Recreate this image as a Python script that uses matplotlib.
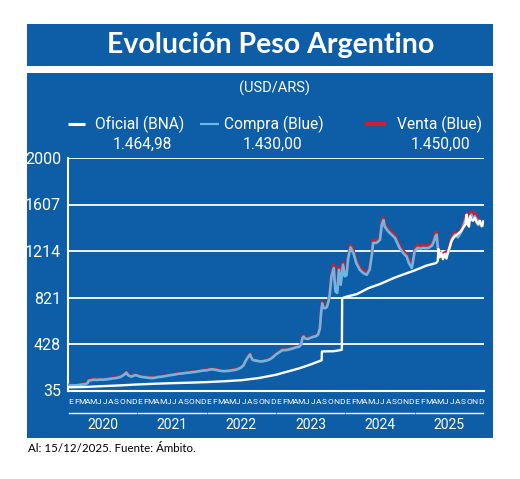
import matplotlib
matplotlib.use("Agg")
import matplotlib.pyplot as plt
from matplotlib import font_manager
from matplotlib.lines import Line2D
from matplotlib.patches import Rectangle

# ---------------- data ----------------
months = ['E', 'F', 'M', 'A', 'M', 'J', 'J', 'A', 'S', 'O', 'N', 'D']
years = ['2020', '2021', '2022', '2023', '2024', '2025']
y_ticks = [35, 428, 821, 1214, 1607, 2000]

# time in months since Jan 2020
blue_t = [0.0, 0.5, 1.0, 1.5, 2.0, 2.5, 3.0, 3.4, 3.6, 4.0, 4.5, 5.0, 5.5, 6.0, 6.5, 7.0, 7.5, 8.0, 8.5,
          9.0, 9.4, 9.8, 10.1, 10.3, 10.5, 10.8, 11.0, 11.3, 11.6, 12.0, 12.5, 13.0, 13.5, 14.0, 14.5,
          15.0, 15.5, 16.0, 16.5, 17.0, 17.5, 18.0, 18.5, 19.0, 19.5, 20.0, 20.5, 21.0, 21.5, 22.0,
          22.5, 23.0, 23.5, 24.0, 24.5, 25.0, 25.5, 26.0, 26.5, 27.0, 27.5, 28.0, 28.5, 29.0, 29.5,
          30.0, 30.4, 30.8, 31.2, 31.5, 31.7, 32.0, 32.5, 33.0, 33.5, 34.0, 34.5, 35.0, 35.5, 36.0,
          36.3, 36.7, 37.0, 37.5, 38.0, 38.5, 39.0, 39.5, 40.0, 40.3, 40.6, 40.8, 41.0, 41.5, 42.0,
          42.5, 43.0, 43.3, 43.6, 43.8, 44.0, 44.2, 44.5, 44.8, 45.1, 45.3, 45.6, 46.0, 46.15, 46.3,
          46.6, 46.9, 47.2, 47.6, 47.9, 48.2, 48.5, 48.9, 49.4, 49.9, 50.5, 51.1, 51.7, 52.2, 52.6,
          52.8, 53.4, 54.0, 54.3, 54.6, 54.8, 55.4, 56.0, 56.6, 57.0, 57.4, 58.0, 58.6, 59.0, 59.5,
          59.8, 60.0, 60.5, 61.0, 61.5, 62.0, 62.5, 63.0, 63.3, 63.6, 63.8, 64.1, 64.4, 64.7, 65.2,
          65.8, 66.1, 66.4, 67.0, 67.5, 68.1, 68.7, 69.0, 69.3, 69.6, 69.8, 70.1, 70.4, 70.7, 71.0,
          71.3, 71.6, 71.9]

compra = [77, 78, 78, 79, 82, 86, 88, 98, 118, 122, 126, 124, 127, 126, 128, 131, 135, 138, 142,
          148, 158, 172, 186, 172, 160, 155, 152, 158, 165, 160, 152, 148, 145, 142, 140,
          142, 148, 150, 154, 158, 163, 166, 170, 175, 178, 180, 184, 186, 190, 192,
          196, 200, 204, 205, 212, 214, 210, 205, 200, 198, 200, 202, 206, 210, 218,
          230, 250, 290, 320, 340, 315, 292, 288, 282, 280, 285, 290, 300, 318, 340,
          350, 362, 375, 376, 378, 385, 392, 400, 405, 420, 480, 490, 475, 470, 480,
          490, 495, 510, 560, 690, 770, 735, 730, 740, 790, 845, 1000, 1070, 960, 872,
          860, 1055, 928, 1098, 1000, 1010, 1155, 1245, 1197, 1112, 1055, 1027, 1013, 1055, 1182,
          1282, 1282, 1308, 1437, 1475, 1422, 1380, 1352, 1324, 1280, 1239, 1197, 1168, 1112, 1070,
          1150, 1214, 1240, 1235, 1240, 1238, 1242, 1260, 1290, 1340, 1352, 1197, 1180, 1168, 1180,
          1197, 1250, 1310, 1352, 1330, 1380, 1465, 1507, 1465, 1493, 1521, 1479, 1507, 1480, 1465,
          1440, 1437, 1430]

venta = [80, 81, 81, 82, 85, 89, 92, 102, 123, 127, 131, 129, 132, 131, 133, 136, 140, 143, 147,
         153, 163, 177, 193, 178, 165, 160, 157, 163, 170, 165, 157, 153, 150, 146, 144,
         146, 152, 154, 158, 162, 167, 170, 174, 179, 182, 184, 188, 190, 194, 196,
         200, 204, 208, 209, 216, 218, 214, 209, 204, 202, 204, 206, 210, 214, 222,
         234, 254, 294, 324, 346, 319, 296, 292, 286, 284, 289, 294, 304, 322, 344,
         354, 366, 379, 380, 382, 389, 396, 404, 409, 425, 495, 497, 480, 475, 485,
         495, 500, 515, 570, 705, 785, 745, 740, 750, 800, 860, 1020, 1100, 985, 890,
         880, 1080, 950, 1120, 1020, 1030, 1175, 1265, 1217, 1132, 1075, 1047, 1033, 1075, 1202,
         1302, 1302, 1328, 1457, 1495, 1442, 1400, 1372, 1344, 1300, 1259, 1217, 1188, 1132, 1090,
         1170, 1234, 1260, 1255, 1260, 1258, 1262, 1280, 1310, 1360, 1373, 1217, 1200, 1188, 1200,
         1217, 1270, 1330, 1372, 1350, 1400, 1485, 1530, 1485, 1515, 1549, 1500, 1541, 1500, 1485,
         1460, 1457, 1450]

oficial_t = [0, 3, 6, 9, 12, 15, 18, 21, 24, 27, 30, 33, 36, 38, 40, 42, 43.6, 43.9, 43.95, 45, 46,
             47, 47.4, 47.45, 48, 50, 52, 54, 56.6, 58, 60, 61, 62, 63.7, 64.0, 64.1, 64.3, 64.6,
             64.9, 65.2, 65.5, 65.8, 66.0, 66.4, 66.7, 67.0, 67.5, 68.0, 68.4, 68.8, 69.0, 69.2,
             69.4, 69.6, 69.8, 70.1, 70.4, 70.7, 71.0, 71.3, 71.6, 71.9]
oficial = [62, 65, 72, 78, 86, 92, 97, 101, 106, 113, 122, 140, 168, 195, 222, 255, 285, 290, 365,
           366, 367, 375, 380, 815, 825, 850, 900, 935, 990, 1015, 1050, 1070, 1090, 1112, 1130,
           1230, 1160, 1200, 1145, 1190, 1150, 1210, 1239, 1300, 1324, 1340, 1360, 1380, 1410,
           1440, 1521, 1440, 1420, 1507, 1479, 1470, 1493, 1460, 1437, 1470, 1422, 1465]

legend_names = ['Oficial (BNA)', 'Compra (Blue)', 'Venta (Blue)']
legend_values = ['1.464,98', '1.430,00', '1.450,00']

# ---------------- style ----------------
BG = '#0d5ea6'
C_OF = 'white'
C_COMPRA = '#6bb8e6'
C_VENTA = '#d21f2f'

names = {f.name for f in font_manager.fontManager.ttflist}
NARROW = 'Liberation Sans Narrow' if 'Liberation Sans Narrow' in names else 'Roboto'
TITLEF = 'Lato' if 'Lato' in names else 'DejaVu Sans'

W, H = 520, 479
fig = plt.figure(figsize=(W / 100, H / 100), dpi=100)
fig.patch.set_facecolor('white')


def fx(x):
    return x / W


def fy(y):
    return 1 - y / H


# panels
for (x0, y0, x1, y1) in [(27, 24, 493, 66), (27, 73, 493, 438)]:
    fig.add_artist(Rectangle((fx(x0), fy(y1)), fx(x1) - fx(x0), fy(y0) - fy(y1),
                             transform=fig.transFigure, facecolor=BG, edgecolor='none',
                             zorder=-10))

fig.text(fx(271), fy(45), 'Evolución Peso Argentino', color='white', fontsize=20.5,
         fontweight='bold', family=TITLEF, ha='center', va='center')
fig.text(fx(275), fy(88), '(USD/ARS)', color='white', fontsize=10.5, family=NARROW,
         ha='center', va='center')

# legend
leg_line_x = [(68, 85), (200, 219), (365, 386)]
leg_colors = [C_OF, C_COMPRA, C_VENTA]
leg_lw = [2.2, 1.6, 3.0]
leg_text_x = [95, 224, 397]
leg_val_x = [142, 272, 440]
for (x0, x1), c, lw, tx, vx, name, val in zip(leg_line_x, leg_colors, leg_lw, leg_text_x,
                                                leg_val_x, legend_names, legend_values):
    fig.add_artist(Line2D([fx(x0), fx(x1)], [fy(124), fy(124)], transform=fig.transFigure,
                          color=c, lw=lw, solid_capstyle='butt'))
    fig.text(fx(tx), fy(124), name, color='white', fontsize=11.2, family=NARROW,
             ha='left', va='center')
    fig.text(fx(vx), fy(144), val, color='white', fontsize=11.2, family=NARROW,
             ha='center', va='center')

# axes
ax_l, ax_r, ax_t, ax_b = 68, 484, 158, 390.5
ax = fig.add_axes([fx(ax_l), fy(ax_b), fx(ax_r) - fx(ax_l), fy(ax_t) - fy(ax_b)])
ax.set_facecolor(BG)
ax.patch.set_alpha(0)

ax.plot(blue_t, venta, color=C_VENTA, lw=2.1, zorder=3, solid_joinstyle='round')
ax.plot(blue_t, compra, color=C_COMPRA, lw=1.9, zorder=4, solid_joinstyle='round')
ax.plot(oficial_t, oficial, color=C_OF, lw=1.7, zorder=5, solid_joinstyle='round')

ax.set_xlim(0, 72)
ax.set_ylim(35, 2000)
ax.set_yticks(y_ticks)
ax.set_yticklabels([str(v) for v in y_ticks], color='white', fontsize=11.5, family=NARROW)
ax.yaxis.grid(True, color='white', lw=1.3)
ax.set_axisbelow(True)
ax.tick_params(axis='y', length=0, pad=5)

ax.set_xticks([i + 0.4 for i in range(72)])
ax.set_xticklabels(months * 6, color='white', fontsize=6, family=NARROW)
ax.tick_params(axis='x', length=0, pad=6)

for s in ['top', 'right']:
    ax.spines[s].set_visible(False)
for s in ['left', 'bottom']:
    ax.spines[s].set_color('white')
    ax.spines[s].set_linewidth(1.5)

tr = ax.get_xaxis_transform()
y_line = (ax_b - 413) / (ax_b - ax_t)
y_year = (ax_b - 425) / (ax_b - ax_t)
for k, yr in enumerate(years):
    ax.plot([12 * k + 0.2, 12 * k + 11.8], [y_line, y_line], transform=tr, color='white',
            lw=1.0, clip_on=False)
    ax.text(12 * k + 6, y_year, yr, transform=tr, color='white', fontsize=10, family=NARROW,
            ha='center', va='center')

fig.text(fx(28), fy(448), 'Al: 15/12/2025. Fuente: Ámbito.', color='black', fontsize=8.3,
         family=TITLEF, ha='left', va='center')

fig.savefig('out.png', dpi=100, facecolor='white')
